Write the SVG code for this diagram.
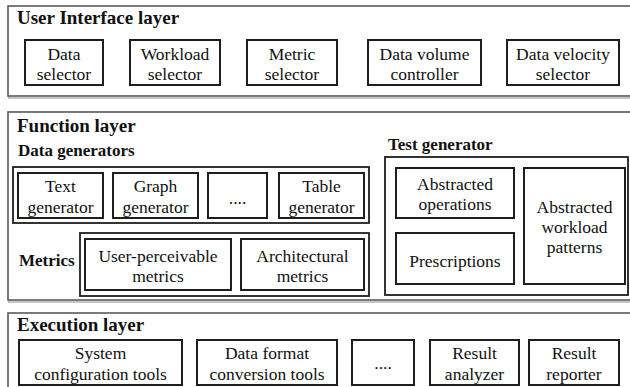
<svg xmlns="http://www.w3.org/2000/svg" width="630" height="387" viewBox="0 0 630 387">
<g id="layers" fill="#fff">
<g id="ui-layer">
<rect x="9" y="7" width="625" height="91" fill="none" stroke="#c4c4c4" stroke-width="2"/>
<rect x="8" y="6" width="625" height="90" stroke="#5a5a5a" stroke-width="1.6"/>
<text style="font-family:'Liberation Serif',serif;font-weight:bold;font-size:19px" fill="#111" x="17" y="24">User Interface layer</text>
</g>
<g id="function-layer">
<rect x="9" y="113" width="625" height="189" fill="none" stroke="#c4c4c4" stroke-width="2"/>
<rect x="8" y="112" width="625" height="188" stroke="#5a5a5a" stroke-width="1.6"/>
<text style="font-family:'Liberation Serif',serif;font-weight:bold;font-size:19px" fill="#111" x="17" y="132">Function layer</text>
</g>
<g id="execution-layer">
<rect x="9" y="314" width="625" height="80" fill="none" stroke="#c4c4c4" stroke-width="2"/>
<rect x="8" y="313" width="625" height="80" stroke="#5a5a5a" stroke-width="1.6"/>
<text style="font-family:'Liberation Serif',serif;font-weight:bold;font-size:19px" fill="#111" x="17" y="331">Execution layer</text>
</g>
</g>
<g id="containers" fill="#fff" stroke="#1e1e1e" stroke-width="1.8">
<g id="data-generators">
<text style="font-family:'Liberation Serif',serif;font-weight:bold;font-size:17px" fill="#111" stroke="none" x="18" y="156">Data generators</text>
<rect x="13" y="167" width="356" height="56"/>
</g>
<g id="metrics">
<text style="font-family:'Liberation Serif',serif;font-weight:bold;font-size:17px" fill="#111" stroke="none" x="19" y="266">Metrics</text>
<rect x="80" y="233" width="289" height="63"/>
</g>
<g id="test-generator">
<text style="font-family:'Liberation Serif',serif;font-weight:bold;font-size:17px" fill="#111" stroke="none" x="388" y="150">Test generator</text>
<rect x="385" y="157" width="243" height="138"/>
</g>
</g>
<g id="nodes" fill="#111">
<g id="data-selector"><rect fill="#fff" stroke="#1e1e1e" stroke-width="2" x="25" y="40" width="78" height="45"/><text style="font-family:'Liberation Serif',serif;font-size:17.5px;text-anchor:middle" x="64" y="60">Data</text><text style="font-family:'Liberation Serif',serif;font-size:17.5px;text-anchor:middle" x="64" y="80">selector</text></g>
<g id="workload-selector"><rect fill="#fff" stroke="#1e1e1e" stroke-width="2" x="130" y="40" width="90" height="45"/><text style="font-family:'Liberation Serif',serif;font-size:17.5px;text-anchor:middle" x="175" y="60">Workload</text><text style="font-family:'Liberation Serif',serif;font-size:17.5px;text-anchor:middle" x="175" y="80">selector</text></g>
<g id="metric-selector"><rect fill="#fff" stroke="#1e1e1e" stroke-width="2" x="247" y="40" width="90" height="45"/><text style="font-family:'Liberation Serif',serif;font-size:17.5px;text-anchor:middle" x="292" y="60">Metric</text><text style="font-family:'Liberation Serif',serif;font-size:17.5px;text-anchor:middle" x="292" y="80">selector</text></g>
<g id="data-volume-controller"><rect fill="#fff" stroke="#1e1e1e" stroke-width="2" x="368" y="40" width="113" height="45"/><text style="font-family:'Liberation Serif',serif;font-size:17.5px;text-anchor:middle" x="424.5" y="60">Data volume</text><text style="font-family:'Liberation Serif',serif;font-size:17.5px;text-anchor:middle" x="424.5" y="80">controller</text></g>
<g id="data-velocity-selector"><rect fill="#fff" stroke="#1e1e1e" stroke-width="2" x="507" y="40" width="112" height="45"/><text style="font-family:'Liberation Serif',serif;font-size:17.5px;text-anchor:middle" x="563" y="60">Data velocity</text><text style="font-family:'Liberation Serif',serif;font-size:17.5px;text-anchor:middle" x="563" y="80">selector</text></g>
<g id="text-generator"><rect fill="#fff" stroke="#1e1e1e" stroke-width="2" x="18" y="173" width="85" height="45"/><text style="font-family:'Liberation Serif',serif;font-size:17.5px;text-anchor:middle" x="60.5" y="192">Text</text><text style="font-family:'Liberation Serif',serif;font-size:17.5px;text-anchor:middle" x="60.5" y="213">generator</text></g>
<g id="graph-generator"><rect fill="#fff" stroke="#1e1e1e" stroke-width="2" x="113" y="173" width="85" height="45"/><text style="font-family:'Liberation Serif',serif;font-size:17.5px;text-anchor:middle" x="155.5" y="192">Graph</text><text style="font-family:'Liberation Serif',serif;font-size:17.5px;text-anchor:middle" x="155.5" y="213">generator</text></g>
<g id="gen-ellipsis"><rect fill="#fff" stroke="#1e1e1e" stroke-width="2" x="208" y="173" width="59" height="45"/><text style="font-family:'Liberation Serif',serif;font-size:17.5px;text-anchor:middle" x="237.5" y="204">....</text></g>
<g id="table-generator"><rect fill="#fff" stroke="#1e1e1e" stroke-width="2" x="279" y="173" width="85" height="45"/><text style="font-family:'Liberation Serif',serif;font-size:17.5px;text-anchor:middle" x="321.5" y="192">Table</text><text style="font-family:'Liberation Serif',serif;font-size:17.5px;text-anchor:middle" x="321.5" y="213">generator</text></g>
<g id="user-perceivable-metrics"><rect fill="#fff" stroke="#1e1e1e" stroke-width="2" x="85" y="239" width="146" height="51"/><text style="font-family:'Liberation Serif',serif;font-size:17.5px;text-anchor:middle" x="158" y="262">User-perceivable</text><text style="font-family:'Liberation Serif',serif;font-size:17.5px;text-anchor:middle" x="158" y="282">metrics</text></g>
<g id="architectural-metrics"><rect fill="#fff" stroke="#1e1e1e" stroke-width="2" x="241" y="239" width="123" height="51"/><text style="font-family:'Liberation Serif',serif;font-size:17.5px;text-anchor:middle" x="302.5" y="262">Architectural</text><text style="font-family:'Liberation Serif',serif;font-size:17.5px;text-anchor:middle" x="302.5" y="282">metrics</text></g>
<g id="abstracted-operations"><rect fill="#fff" stroke="#1e1e1e" stroke-width="2" x="396" y="168" width="118" height="50"/><text style="font-family:'Liberation Serif',serif;font-size:17.5px;text-anchor:middle" x="455" y="190">Abstracted</text><text style="font-family:'Liberation Serif',serif;font-size:17.5px;text-anchor:middle" x="455" y="210">operations</text></g>
<g id="prescriptions"><rect fill="#fff" stroke="#1e1e1e" stroke-width="2" x="396" y="233" width="118" height="51"/><text style="font-family:'Liberation Serif',serif;font-size:17.5px;text-anchor:middle" x="455" y="267">Prescriptions</text></g>
<g id="abstracted-workload-patterns"><rect fill="#fff" stroke="#1e1e1e" stroke-width="2" x="524" y="168" width="101" height="116"/><text style="font-family:'Liberation Serif',serif;font-size:17.5px;text-anchor:middle" x="574.5" y="213">Abstracted</text><text style="font-family:'Liberation Serif',serif;font-size:17.5px;text-anchor:middle" x="574.5" y="233">workload</text><text style="font-family:'Liberation Serif',serif;font-size:17.5px;text-anchor:middle" x="574.5" y="253">patterns</text></g>
<g id="system-configuration-tools"><rect fill="#fff" stroke="#1e1e1e" stroke-width="2" x="19" y="340" width="163" height="45"/><text style="font-family:'Liberation Serif',serif;font-size:17.5px;text-anchor:middle" x="100.5" y="359">System</text><text style="font-family:'Liberation Serif',serif;font-size:17.5px;text-anchor:middle" x="100.5" y="380">configuration tools</text></g>
<g id="data-format-conversion-tools"><rect fill="#fff" stroke="#1e1e1e" stroke-width="2" x="197" y="340" width="140" height="45"/><text style="font-family:'Liberation Serif',serif;font-size:17.5px;text-anchor:middle" x="267" y="359">Data format</text><text style="font-family:'Liberation Serif',serif;font-size:17.5px;text-anchor:middle" x="267" y="380">conversion tools</text></g>
<g id="exec-ellipsis"><rect fill="#fff" stroke="#1e1e1e" stroke-width="2" x="352" y="340" width="62" height="45"/><text style="font-family:'Liberation Serif',serif;font-size:17.5px;text-anchor:middle" x="383" y="369">....</text></g>
<g id="result-analyzer"><rect fill="#fff" stroke="#1e1e1e" stroke-width="2" x="430" y="340" width="89" height="45"/><text style="font-family:'Liberation Serif',serif;font-size:17.5px;text-anchor:middle" x="474.5" y="359">Result</text><text style="font-family:'Liberation Serif',serif;font-size:17.5px;text-anchor:middle" x="474.5" y="380">analyzer</text></g>
<g id="result-reporter"><rect fill="#fff" stroke="#1e1e1e" stroke-width="2" x="529" y="340" width="90" height="45"/><text style="font-family:'Liberation Serif',serif;font-size:17.5px;text-anchor:middle" x="574" y="359">Result</text><text style="font-family:'Liberation Serif',serif;font-size:17.5px;text-anchor:middle" x="574" y="380">reporter</text></g>
</g>
<g id="connectors"/>
</svg>
